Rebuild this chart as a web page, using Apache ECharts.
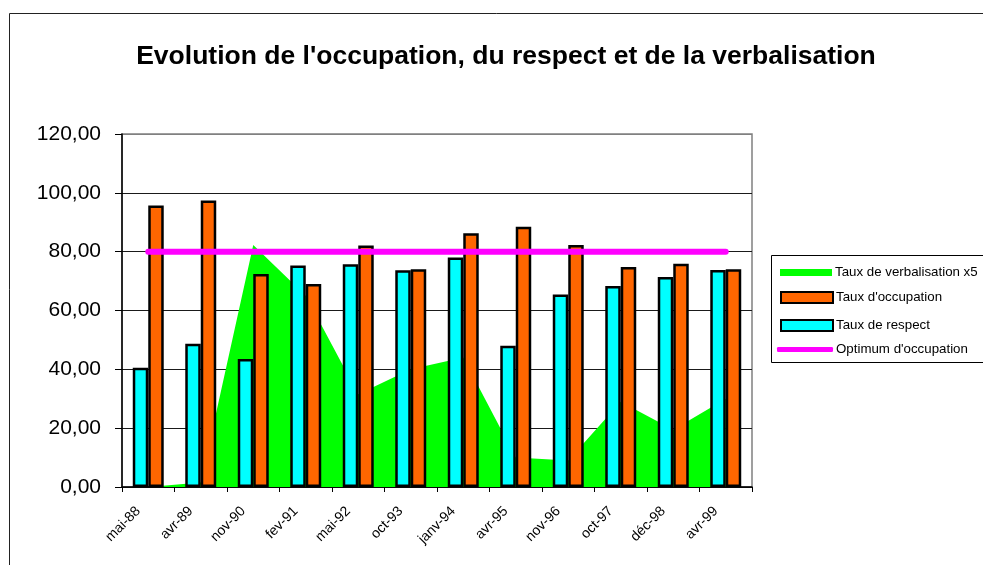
<!DOCTYPE html>
<html>
<head>
<meta charset="utf-8">
<script src="https://cdn.jsdelivr.net/npm/echarts@6/dist/echarts.min.js"></script>
<style>
html,body{margin:0;padding:0;background:#fff;}
#chart{width:983px;height:565px;}
</style>
</head>
<body>
<div id="chart"></div>
<script>
const categories = ['mai-88','avr-89','nov-90','fev-91','mai-92','oct-93','janv-94','avr-95','nov-96','oct-97','déc-98','avr-99'];
const tauxRespect = [40.5, 48.7, 43.5, 75.3, 75.7, 73.7, 78.0, 48.0, 65.4, 68.3, 71.4, 73.8];
const tauxOccupation = [95.7, 97.4, 72.4, 69.0, 82.1, 74.0, 86.3, 88.5, 82.3, 74.8, 75.9, 74.0];
const tauxVerbalisationX5 = [0, 1.5, 82.3, 65.0, 31.5, 40.0, 44.0, 10.0, 9.0, 29.0, 19.5, 30.0];
const optimumOccupation = [80, 80, 80, 80, 80, 80, 80, 80, 80, 80, 80, 80];
const yTickLabels = ['0,00','20,00','40,00','60,00','80,00','100,00','120,00'];

const FONT = '"Liberation Sans", Arial, sans-serif';
const chart = echarts.init(document.getElementById('chart'), null, {renderer: 'canvas'});

function legendFor(name, top, left, extra) {
  return Object.assign({
    orient: 'vertical', left: left, top: top, padding: 0,
    itemWidth: 52, itemHeight: 11, itemGap: 0,
    selectedMode: false,
    textStyle: {fontFamily: FONT, fontSize: 13.3, color: '#000', padding: [0,0,0,-2]},
    data: [{name: name, icon: 'rect'}]
  }, extra || {});
}

chart.setOption({
  animation: false,
  backgroundColor: '#fff',
  title: {
    text: "Evolution de l'occupation, du respect et de la verbalisation",
    left: 501, textAlign: 'center', top: 38,
    textStyle: {fontFamily: FONT, fontSize: 26.5, fontWeight: 'bold', color: '#000'}
  },
  graphic: [
    {type: 'rect', shape: {x: 9.5, y: 13.5, width: 1000, height: 600}, style: {fill: 'none', stroke: '#222', lineWidth: 1}, z: -10, silent: true},
    {type: 'rect', shape: {x: 771.5, y: 255.5, width: 240, height: 107}, style: {fill: 'none', stroke: '#000', lineWidth: 1}, silent: true}
  ],
  legend: [
    legendFor('Taux de verbalisation x5', 266, 780, {itemHeight: 7, data: [{name: 'Taux de verbalisation x5', icon: 'rect', itemStyle: {color: '#00FF00', borderWidth: 0}}]}),
    legendFor("Taux d'occupation", 291, 780),
    legendFor('Taux de respect', 319, 780),
    legendFor("Optimum d'occupation", 343, 777, {itemWidth: 56, itemHeight: 5, data: [{name: "Optimum d'occupation", icon: 'roundRect', itemStyle: {color: '#FF00FF', borderWidth: 0}}]})
  ],
  grid: {
    left: 122, right: 231, top: 134, bottom: 78,
    show: true, borderColor: '#808080', borderWidth: 1.5, backgroundColor: 'transparent'
  },
  xAxis: {
    type: 'category', data: categories, boundaryGap: true,
    axisLine: {lineStyle: {color: '#000', width: 1.5}},
    axisTick: {show: true, length: 5, alignWithLabel: false, lineStyle: {color: '#000', width: 1}},
    axisLabel: {rotate: 45, interval: 0, margin: 12, fontFamily: FONT, fontSize: 14, color: '#000', padding: [0, 14, 0, 0]},
    splitLine: {show: false}
  },
  yAxis: {
    type: 'value', min: 0, max: 120, interval: 20,
    axisLine: {show: true, lineStyle: {color: '#000', width: 1.5}},
    axisTick: {show: true, length: 7, lineStyle: {color: '#000', width: 1}},
    axisLabel: {margin: 21, fontFamily: FONT, fontSize: 21, color: '#000',
      formatter: function (v) { return yTickLabels[Math.round(v / 20)]; }},
    splitLine: {show: true, lineStyle: {color: ['#1a1a1a','#1a1a1a','#1a1a1a','#1a1a1a','#1a1a1a','#1a1a1a','#808080'], width: 1}}
  },
  series: [
    {
      name: 'Taux de verbalisation x5', type: 'line', data: tauxVerbalisationX5,
      symbol: 'none', z: 1,
      lineStyle: {width: 0, color: '#00FF00'},
      itemStyle: {color: '#00FF00'},
      areaStyle: {color: '#00FF00', opacity: 1}
    },
    {
      name: 'Taux de respect', type: 'bar', data: tauxRespect, z: 2,
      barGap: '0%', barCategoryGap: '41%',
      itemStyle: {color: '#00FFFF', borderColor: '#000', borderWidth: 2.5}
    },
    {
      name: "Taux d'occupation", type: 'bar', data: tauxOccupation, z: 2,
      barGap: '0%', barCategoryGap: '41%',
      itemStyle: {color: '#FF6600', borderColor: '#000', borderWidth: 2.5}
    },
    {
      name: "Optimum d'occupation", type: 'line', data: optimumOccupation, z: 3,
      symbol: 'none',
      lineStyle: {width: 6, color: '#FF00FF', cap: 'round'},
      itemStyle: {color: '#FF00FF'}
    }
  ]
});
</script>
</body>
</html>
